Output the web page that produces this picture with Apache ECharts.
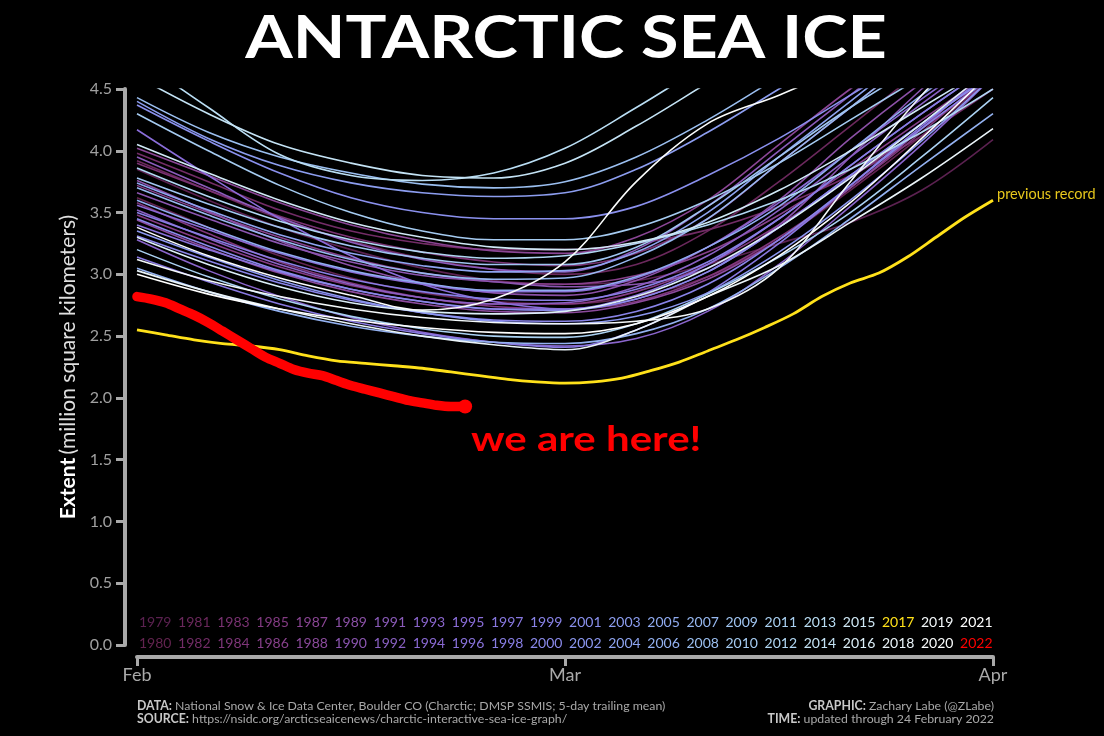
<!DOCTYPE html>
<html><head><meta charset="utf-8">
<script src="https://cdn.jsdelivr.net/npm/echarts@6.0.0/dist/echarts.min.js"></script>
<style>html,body{margin:0;padding:0;background:#000;}#c{width:1104px;height:736px;}</style>
</head><body><div id="c"></div>
<script>
// Day offsets from 1 February (x axis: 0 = Feb, 30 = Mar, 60 = Apr)
const days = [0, 5, 10, 15, 20, 25, 30, 35, 40, 45, 50, 55, 60];

const ext1979 = [3.85, 3.60, 3.38, 3.20, 3.05, 2.95, 2.92, 2.95, 3.08, 3.25, 3.42, 3.68, 4.09];
const ext1980 = [3.62, 3.38, 3.15, 2.97, 2.85, 2.78, 2.76, 2.82, 2.98, 3.28, 3.68, 4.12, 4.60];
const ext1981 = [3.92, 3.68, 3.45, 3.27, 3.13, 3.04, 3.00, 3.08, 3.35, 3.75, 4.20, 4.65, 5.05];
const ext1982 = [3.98, 3.75, 3.52, 3.35, 3.25, 3.20, 3.20, 3.25, 3.36, 3.55, 3.80, 4.12, 4.50];
const ext1983 = [3.90, 3.68, 3.47, 3.30, 3.18, 3.10, 3.07, 3.17, 3.45, 3.90, 4.35, 4.80, 5.20];
const ext1984 = [3.58, 3.33, 3.10, 2.93, 2.81, 2.74, 2.72, 2.78, 2.98, 3.30, 3.70, 4.15, 4.65];
const ext1985 = [3.48, 3.26, 3.06, 2.91, 2.81, 2.76, 2.76, 2.86, 3.08, 3.40, 3.78, 4.18, 4.58];
const ext1986 = [3.72, 3.50, 3.30, 3.13, 3.01, 2.94, 2.92, 2.99, 3.18, 3.48, 3.85, 4.25, 4.65];
const ext1987 = [4.02, 3.80, 3.58, 3.40, 3.27, 3.19, 3.17, 3.30, 3.60, 4.05, 4.50, 4.90, 5.30];
const ext1988 = [3.44, 3.21, 3.01, 2.86, 2.76, 2.70, 2.69, 2.77, 2.96, 3.28, 3.70, 4.18, 4.70];
const ext1989 = [3.76, 3.51, 3.27, 3.07, 2.93, 2.85, 2.83, 2.95, 3.22, 3.60, 4.10, 4.55, 4.95];
const ext1990 = [3.66, 3.45, 3.25, 3.10, 2.99, 2.94, 2.90, 2.92, 3.05, 3.40, 3.95, 4.50, 5.00];
const ext1991 = [3.95, 3.70, 3.46, 3.26, 3.12, 3.04, 3.02, 3.20, 3.55, 4.00, 4.45, 4.90, 5.30];
const ext1992 = [3.52, 3.29, 3.08, 2.92, 2.81, 2.76, 2.77, 2.90, 3.15, 3.52, 3.95, 4.38, 4.80];
const ext1993 = [3.28, 3.03, 2.82, 2.65, 2.53, 2.45, 2.42, 2.48, 2.70, 3.08, 3.55, 4.05, 4.60];
const ext1994 = [3.56, 3.36, 3.17, 3.02, 2.92, 2.86, 2.86, 2.97, 3.22, 3.58, 4.00, 4.42, 4.82];
const ext1995 = [4.17, 3.80, 3.45, 3.15, 2.92, 2.78, 2.72, 2.80, 3.02, 3.38, 3.80, 4.22, 4.62];
const ext1996 = [3.40, 3.20, 3.02, 2.88, 2.78, 2.72, 2.72, 2.83, 3.08, 3.45, 3.88, 4.30, 4.70];
const ext1997 = [3.14, 2.94, 2.76, 2.62, 2.52, 2.45, 2.41, 2.55, 2.85, 3.25, 3.72, 4.20, 4.65];
const ext1998 = [3.50, 3.30, 3.11, 2.96, 2.86, 2.80, 2.79, 2.88, 3.10, 3.45, 3.88, 4.30, 4.70];
const ext1999 = [3.31, 3.11, 2.93, 2.79, 2.69, 2.63, 2.62, 2.70, 2.92, 3.28, 3.72, 4.18, 4.60];
const ext2000 = [3.45, 3.23, 3.03, 2.88, 2.78, 2.72, 2.71, 2.80, 3.02, 3.38, 3.80, 4.22, 4.62];
const ext2001 = [4.37, 4.08, 3.82, 3.62, 3.50, 3.45, 3.45, 3.55, 3.80, 4.10, 4.45, 4.80, 5.10];
const ext2002 = [3.35, 3.14, 2.95, 2.80, 2.69, 2.62, 2.60, 2.66, 2.85, 3.18, 3.60, 4.08, 4.60];
const ext2003 = [4.40, 4.10, 3.88, 3.74, 3.66, 3.63, 3.66, 3.85, 4.15, 4.50, 4.85, 5.20, 5.50];
const ext2004 = [3.74, 3.52, 3.32, 3.17, 3.07, 3.02, 3.03, 3.18, 3.50, 3.95, 4.40, 4.85, 5.25];
const ext2005 = [3.60, 3.38, 3.18, 3.03, 2.93, 2.87, 2.87, 2.98, 3.22, 3.55, 4.00, 4.45, 4.85];
const ext2006 = [3.05, 2.86, 2.70, 2.58, 2.50, 2.45, 2.44, 2.52, 2.72, 3.05, 3.45, 3.88, 4.30];
const ext2007 = [3.70, 3.48, 3.28, 3.12, 3.01, 2.96, 2.97, 3.14, 3.45, 3.90, 4.35, 4.80, 5.20];
const ext2008 = [4.43, 4.15, 3.95, 3.82, 3.73, 3.70, 3.75, 3.95, 4.25, 4.60, 4.95, 5.30, 5.60];
const ext2009 = [3.78, 3.57, 3.38, 3.23, 3.13, 3.08, 3.08, 3.22, 3.55, 3.95, 4.35, 4.70, 5.00];
const ext2010 = [4.30, 4.00, 3.72, 3.50, 3.35, 3.28, 3.28, 3.38, 3.60, 3.90, 4.25, 4.60, 4.95];
const ext2011 = [3.20, 2.98, 2.80, 2.66, 2.56, 2.50, 2.49, 2.60, 2.84, 3.14, 3.50, 3.95, 4.43];
const ext2012 = [3.86, 3.63, 3.43, 3.28, 3.18, 3.13, 3.15, 3.25, 3.40, 3.60, 3.85, 4.15, 4.50];
const ext2013 = [4.75, 4.35, 3.97, 3.80, 3.76, 3.82, 4.02, 4.35, 4.70, 5.00, 5.30, 5.60, 5.90];
const ext2014 = [4.60, 4.30, 4.05, 3.90, 3.80, 3.78, 3.90, 4.20, 4.55, 4.90, 5.20, 5.50, 5.80];
const ext2015 = [4.05, 3.82, 3.60, 3.42, 3.30, 3.22, 3.20, 3.26, 3.42, 3.68, 4.00, 4.35, 4.70];
const ext2016 = [3.30, 3.08, 2.90, 2.77, 2.70, 2.68, 2.70, 2.82, 3.05, 3.38, 3.78, 4.22, 4.68];
const ext2018 = [3.03, 2.86, 2.72, 2.60, 2.50, 2.43, 2.39, 2.55, 2.82, 3.07, 3.42, 3.78, 4.18];
const ext2019 = [3.12, 2.95, 2.82, 2.72, 2.65, 2.61, 2.60, 2.62, 2.72, 3.05, 3.75, 4.45, 5.00];
const ext2020 = [3.38, 3.15, 2.97, 2.83, 2.71, 2.80, 3.10, 3.75, 4.22, 4.45, 4.70, 4.95, 5.20];
const ext2021 = [3.00, 2.84, 2.72, 2.63, 2.57, 2.53, 2.52, 2.60, 2.82, 3.15, 3.58, 4.10, 4.65];

const histYears = [1979,1980,1981,1982,1983,1984,1985,1986,1987,1988,1989,1990,1991,1992,1993,1994,1995,1996,1997,1998,1999,2000,2001,2002,2003,2004,2005,2006,2007,2008,2009,2010,2011,2012,2013,2014,2015,2016,2018,2019,2020,2021];
const histExtents = [ext1979,ext1980,ext1981,ext1982,ext1983,ext1984,ext1985,ext1986,ext1987,ext1988,ext1989,ext1990,ext1991,ext1992,ext1993,ext1994,ext1995,ext1996,ext1997,ext1998,ext1999,ext2000,ext2001,ext2002,ext2003,ext2004,ext2005,ext2006,ext2007,ext2008,ext2009,ext2010,ext2011,ext2012,ext2013,ext2014,ext2015,ext2016,ext2018,ext2019,ext2020,ext2021];
const histColors = ['#5b2150','#62234f','#6b285c','#722c66','#7a3272','#7f367a','#843b83','#87408b','#8a4594','#8b4a9c','#8b50a6','#8b55b0','#8b5bba','#8a60c3','#8a65cc','#8a69d3','#8a6dd9','#8972dc','#8878e0','#887ee4','#8983e8','#8a89ea','#8a90ed','#8b97ef','#8c9def','#8ea4f0','#90abf0','#93b1f0','#97b8f0','#9bbff0','#a0c5f1','#a5cbf1','#aad1f2','#b1d7f3','#badef4','#c4e3f5','#d0e9f6','#dceff8','#eaf4f9','#f3f8fa','#fafcfc','#ffffff'];

// 2017: previous record
const days2017 = [0,2,4,6,8,10,12,14,16,18,20,22,24,26,28,30,32,34,36,38,40,42,44,46,48,50,52,54,56,58,60];
const ext2017 = [2.55,2.51,2.47,2.44,2.42,2.39,2.34,2.30,2.28,2.26,2.24,2.21,2.18,2.15,2.13,2.12,2.13,2.16,2.22,2.29,2.38,2.47,2.57,2.68,2.82,2.93,3.01,3.14,3.30,3.46,3.60];

// 2022 through 24 February
const days2022 = [0,1,2,3,4,5,6,7,8,9,10,11,12,13,14,15,16,17,18,19,20,21,22,23];
const ext2022 = [2.82,2.80,2.77,2.72,2.67,2.61,2.54,2.47,2.40,2.33,2.28,2.23,2.20,2.18,2.14,2.10,2.07,2.04,2.01,1.98,1.96,1.94,1.93,1.93];

const monthTicks = {0: 'Feb', 30: 'Mar', 60: 'Apr'};
const legendYears = [1979,1980,1981,1982,1983,1984,1985,1986,1987,1988,1989,1990,1991,1992,1993,1994,1995,1996,1997,1998,1999,2000,2001,2002,2003,2004,2005,2006,2007,2008,2009,2010,2011,2012,2013,2014,2015,2016,2017,2018,2019,2020,2021,2022];
const color2017 = '#ffe11a';
const color2022 = '#ff0000';

const FONT = 'Lato, "Open Sans", sans-serif';
const chart = echarts.init(document.getElementById('c'), null, {renderer: 'canvas'});

const series = histExtents.map((vals, i) => ({
  name: String(histYears[i]),
  type: 'line',
  data: days.map((d, j) => [d, vals[j]]),
  smooth: 0.35,
  symbol: 'none',
  clip: true,
  silent: true,
  lineStyle: {width: 1.6, color: histColors[i]},
  z: 2
}));
series.push({
  name: '2017', type: 'line',
  data: days2017.map((d, j) => [d, ext2017[j]]),
  smooth: 0.3, symbol: 'none', silent: true, z: 3,
  lineStyle: {width: 2.8, color: color2017},
  endLabel: {show: true, formatter: 'previous record', color: '#e8c81c', fontSize: 14.5, fontFamily: FONT, distance: 4, offset: [0, -6]}
});
series.push({
  name: '2022', type: 'line',
  data: days2022.map((d, j) => j === days2022.length - 1
    ? {value: [d, ext2022[j]], symbol: 'circle', symbolSize: 14, itemStyle: {color: color2022}}
    : [d, ext2022[j]]),
  smooth: 0.3, symbol: 'none', silent: true, z: 4,
  lineStyle: {width: 9.5, color: color2022, cap: 'round', join: 'round'}
});

const graphics = [];
// Title
graphics.push({
  type: 'text', x: 566, y: 9, scaleX: 1.14,
  style: {text: 'ANTARCTIC SEA ICE', fill: '#fff', font: 'bold 60px ' + FONT, align: 'center', verticalAlign: 'top'}
});
// Year legend
legendYears.forEach((y, i) => {
  const col = Math.floor(i / 2), row = i % 2;
  let c;
  if (y === 2017) c = color2017; else if (y === 2022) c = color2022; else c = histColors[histYears.indexOf(y)];
  graphics.push({
    type: 'text', left: 139 + col * 39.1, top: row === 0 ? 615 : 636,
    style: {text: String(y), fill: c, font: '14px ' + FONT}
  });
});
graphics.push({
  type: 'text', x: 471, y: 422, scaleX: 1.2,
  style: {text: 'we are here!', fill: color2022, font: 'bold 35px ' + FONT, align: 'left', verticalAlign: 'top'}
});
const footRich = {b: {fill: '#c8c8c8', fontWeight: 'bold', fontSize: 12.3, fontFamily: FONT}};
graphics.push({
  type: 'text', x: 137, y: 700,
  style: {text: '{b|DATA:} National Snow & Ice Data Center, Boulder CO (Charctic; DMSP SSMIS; 5-day trailing mean)',
    fill: '#a8a8a8', font: '12.3px ' + FONT, align: 'left', verticalAlign: 'top', rich: footRich}
});
graphics.push({
  type: 'text', x: 137, y: 713,
  style: {text: '{b|SOURCE:} https://nsidc.org/arcticseaicenews/charctic-interactive-sea-ice-graph/',
    fill: '#a8a8a8', font: '12.3px ' + FONT, align: 'left', verticalAlign: 'top', rich: footRich}
});
graphics.push({
  type: 'text', x: 994, y: 700,
  style: {text: '{b|GRAPHIC:} Zachary Labe (@ZLabe)',
    fill: '#a8a8a8', font: '12.3px ' + FONT, align: 'right', verticalAlign: 'top', rich: footRich}
});
graphics.push({
  type: 'text', x: 994, y: 713,
  style: {text: '{b|TIME:} updated through 24 February 2022',
    fill: '#a8a8a8', font: '12.3px ' + FONT, align: 'right', verticalAlign: 'top', rich: footRich}
});

chart.setOption({
  backgroundColor: '#000',
  animation: false,
  grid: {left: 137, right: 111, top: 89, bottom: 91, containLabel: false},
  xAxis: {
    type: 'value', min: 0, max: 60, interval: 30, offset: 12,
    axisLine: {show: true, onZero: false, lineStyle: {color: '#a9a9a9', width: 4}},
    axisTick: {show: true, inside: false, length: 9, lineStyle: {color: '#a9a9a9', width: 3}},
    axisLabel: {color: '#a9a9a9', fontSize: 18, fontFamily: FONT, margin: 9, formatter: v => monthTicks[v] || ''},
    splitLine: {show: false}
  },
  yAxis: {
    type: 'value', min: 0, max: 4.5, interval: 0.5, offset: 12,
    name: '{b|Extent} {n|(million square kilometers)}',
    nameLocation: 'middle', nameGap: 46, nameRotate: 90,
    nameTextStyle: {
      rich: {
        b: {color: '#fff', fontWeight: 'bold', fontSize: 21, fontFamily: FONT},
        n: {color: '#e0e0e0', fontSize: 21, fontFamily: FONT}
      }
    },
    axisLine: {show: true, onZero: false, lineStyle: {color: '#a9a9a9', width: 4}},
    axisTick: {show: true, inside: false, length: 9, lineStyle: {color: '#a9a9a9', width: 3}},
    axisLabel: {color: '#a0a0a0', fontSize: 16, fontFamily: FONT, margin: 13, formatter: v => v.toFixed(1)},
    splitLine: {show: false}
  },
  graphic: graphics,
  series: series
});
</script></body></html>
